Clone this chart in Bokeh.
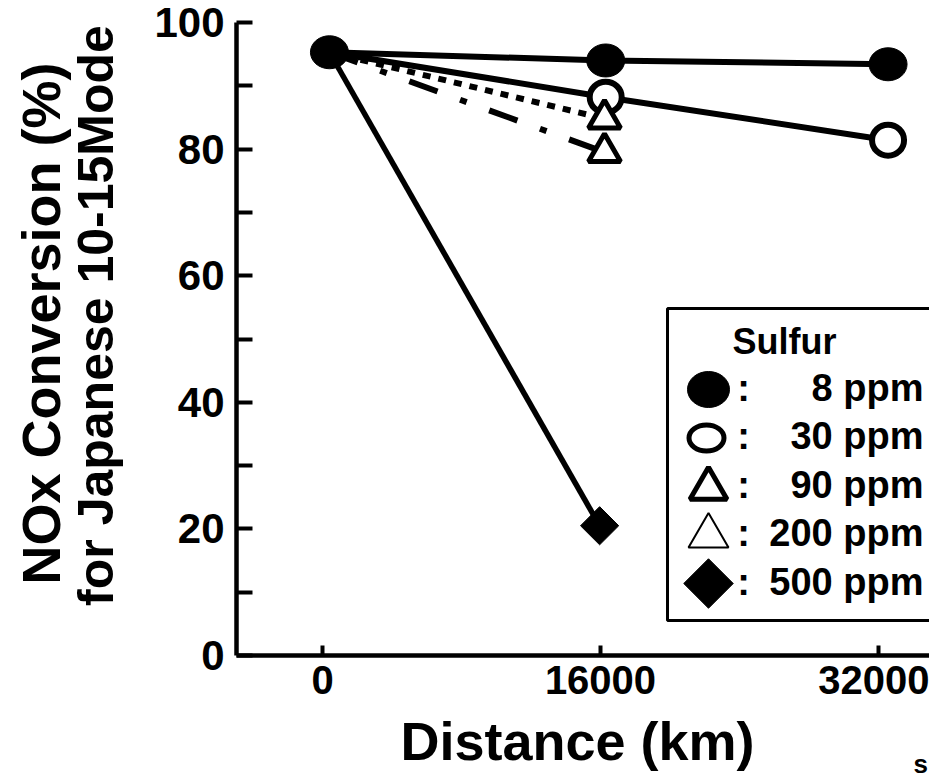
import math
from bokeh.plotting import figure
from bokeh.models import Range1d, FixedTicker, Label, LinearAxis
from bokeh.core.properties import value
from bokeh.embed import file_html
from bokeh.resources import INLINE

# ---------------- data ----------------
dist_8ppm = [400, 16300, 32550]
nox_8ppm = [95.3, 94.0, 93.4]
dist_30ppm = [400, 16300, 32550]
nox_30ppm = [95.3, 88.2, 81.4]
dist_90ppm = [400, 16230]
nox_90ppm = [95.3, 84.8]
dist_200ppm = [400, 16230]
nox_200ppm = [95.3, 79.5]
dist_500ppm = [400, 15950]
nox_500ppm = [95.3, 20.5]

x_ticks = [0, 16000, 32000]
y_major_ticks = [0, 20, 40, 60, 80, 100]
y_minor_ticks = [10, 30, 50, 70, 90]

legend_title = "Sulfur"
legend_labels = ["8 ppm", "30 ppm", "90 ppm", "200 ppm", "500 ppm"]
x_title = "Distance (km)"
y_title_lines = ["NOx Conversion (%)", "for Japanese 10-15Mode"]
corner_text = "s"

# ---------------- layout / style ----------------
FONT = "Liberation Sans"
W, H = 929, 778
BLACK = "black"

# page-pixel geometry of the axes (the frame covers the whole canvas)
AX_LEFT_PX, AX_BOTTOM_PX, AX_TOP_PX = 236, 655, 22
X0_PX, X_PX_PER_KM = 322, 556 / 32000
Y_PX_PER_PCT = (AX_BOTTOM_PX - AX_TOP_PX) / 100


def km_at(px):
    return (px - X0_PX) / X_PX_PER_KM


def pct_at(py):
    return (AX_BOTTOM_PX - py) / Y_PX_PER_PCT


p = figure(width=W, height=H, output_backend="svg", toolbar_location=None,
           x_range=Range1d(km_at(0), km_at(W)), y_range=Range1d(pct_at(H), pct_at(0)),
           x_axis_type=None, y_axis_type=None,
           min_border_left=0, min_border_right=0, min_border_top=0, min_border_bottom=0)
p.outline_line_color = None
p.grid.visible = False
p.background_fill_color = "white"
p.border_fill_color = "white"

# pixel-like coordinate system for annotations (page pixel coordinates)
p.extra_x_ranges = {"px": Range1d(0, W)}
p.extra_y_ranges = {"px": Range1d(H, 0)}

xaxis = LinearAxis(fixed_location=0, bounds=(km_at(AX_LEFT_PX), km_at(W)),
                   ticker=FixedTicker(ticks=x_ticks))
yaxis = LinearAxis(fixed_location=km_at(AX_LEFT_PX), bounds=(0, 100),
                   ticker=FixedTicker(ticks=y_major_ticks, minor_ticks=y_minor_ticks))
for ax in (xaxis, yaxis):
    ax.axis_line_width = 4.5
    ax.axis_line_color = BLACK
    ax.major_tick_line_width = 4
    ax.minor_tick_line_width = 4
    ax.major_tick_out = 0
    ax.minor_tick_out = 0
    ax.major_label_text_font = FONT
    ax.major_label_text_font_style = "bold"
    ax.major_label_text_color = BLACK

xaxis.major_tick_in = 10
xaxis.minor_tick_line_color = None
xaxis.major_label_standoff = 10
xaxis.major_label_text_font_size = "40px"

yaxis.major_tick_in = 16
yaxis.minor_tick_in = 16
yaxis.major_label_standoff = 12
yaxis.major_label_text_font_size = "42px"

p.add_layout(xaxis, "below")
p.add_layout(yaxis, "left")

# ---------------- series lines ----------------
p.line(dist_8ppm, nox_8ppm, line_width=6, line_color=BLACK)
p.line(dist_30ppm, nox_30ppm, line_width=6, line_color=BLACK)
p.line(dist_90ppm, nox_90ppm, line_width=6, line_color=BLACK, line_dash="8 8")
p.line(dist_200ppm, nox_200ppm, line_width=6, line_color=BLACK, line_dash="30 24 7 24")
p.line(dist_500ppm, nox_500ppm, line_width=5.5, line_color=BLACK)

# ---------------- series markers (shared start point drawn once, by 8 ppm) ----------------
p.ellipse(dist_30ppm[1:], nox_30ppm[1:], width=32, height=31, width_units="screen",
          height_units="screen", fill_color="white", line_color=BLACK, line_width=6)
p.scatter(dist_90ppm[1:], nox_90ppm[1:], marker="triangle", size=32,
          fill_color="white", line_color=BLACK, line_width=5)
p.scatter(dist_200ppm[1:], nox_200ppm[1:], marker="triangle", size=32,
          fill_color="white", line_color=BLACK, line_width=5)
p.scatter(dist_500ppm[1:], nox_500ppm[1:], marker="square", angle=math.pi / 4, size=27,
          fill_color=BLACK, line_color=BLACK, line_width=1)
p.ellipse(dist_8ppm, nox_8ppm, width=38, height=33, width_units="screen",
          height_units="screen", fill_color=BLACK, line_color=BLACK)

# ---------------- legend (drawn in the pixel coordinate system) ----------------
PX = dict(x_range_name="px", y_range_name="px")
box = dict(left=667, right=1000, top=308, bottom=620)
p.quad(left=[box["left"]], right=[box["right"]], top=[box["top"]], bottom=[box["bottom"]],
       fill_color="white", line_color=BLACK, line_width=3, **PX)

row_y0, row_step = 389, 48.5
rows = [row_y0 + i * row_step for i in range(len(legend_labels))]
mk_x = 708

p.ellipse([mk_x], [rows[0]], width=42, height=36, width_units="screen", height_units="screen",
          fill_color=BLACK, line_color=BLACK, **PX)
p.ellipse([mk_x - 2], [rows[1]], width=35, height=26, width_units="screen", height_units="screen",
          fill_color="white", line_color=BLACK, line_width=5, **PX)
p.scatter([mk_x], [rows[2] + 2], marker="triangle", size=37, fill_color="white",
          line_color=BLACK, line_width=5, **PX)
p.scatter([mk_x], [rows[3] + 1], marker="triangle", size=40, fill_color="white",
          line_color=BLACK, line_width=2, **PX)
p.scatter([mk_x], [rows[4]], marker="square", angle=math.pi / 4, size=35,
          fill_color=BLACK, line_color=BLACK, **PX)

text_rows = [r - 2 for r in rows]
p.text([743] * len(rows), text_rows, text=[":"] * len(rows),
       text_font=value(FONT), text_font_style="bold", text_font_size="38px",
       text_align="center", text_baseline="middle", text_color=BLACK, **PX)
p.text([923] * len(rows), text_rows, text=legend_labels,
       text_font=value(FONT), text_font_style="bold", text_font_size="38px",
       text_align="right", text_baseline="middle", text_color=BLACK, **PX)
p.text([732], [341], text=[legend_title], text_font=value(FONT), text_font_style="bold",
       text_font_size="36px", text_align="left", text_baseline="middle",
       text_color=BLACK, **PX)

# ---------------- titles ----------------
p.add_layout(Label(x=577, y=740, text=x_title, text_font=FONT, text_font_style="bold",
                   text_font_size="54px", text_align="center", text_baseline="middle",
                   text_color=BLACK, **PX))
p.add_layout(Label(x=40, y=323, text=y_title_lines[0], angle=math.pi / 2, text_font=FONT,
                   text_font_style="bold", text_font_size="54px", text_align="center",
                   text_baseline="middle", text_color=BLACK, **PX))
p.add_layout(Label(x=95, y=315, text=y_title_lines[1], angle=math.pi / 2, text_font=FONT,
                   text_font_style="bold", text_font_size="50px", text_align="center",
                   text_baseline="middle", text_color=BLACK, **PX))
p.add_layout(Label(x=913, y=763, text=corner_text, text_font=FONT, text_font_style="bold",
                   text_font_size="26px", text_align="left", text_baseline="middle",
                   text_color=BLACK, **PX))

open("out.html", "w").write(file_html(p, INLINE))
